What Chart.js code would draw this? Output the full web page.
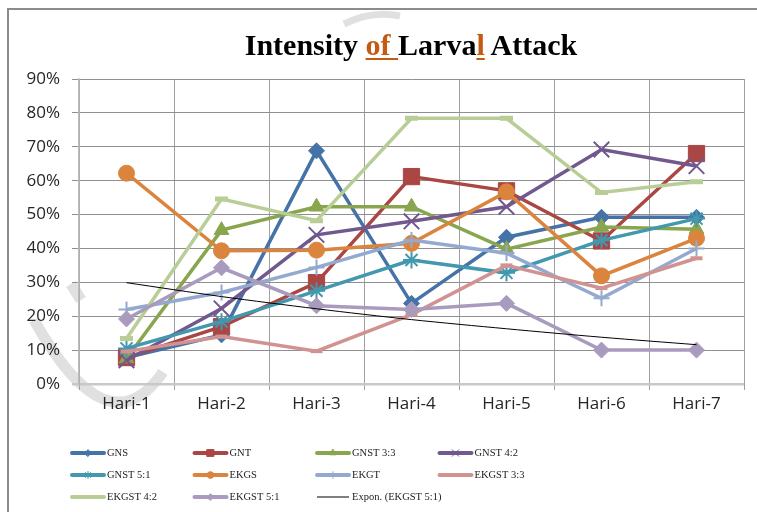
<!DOCTYPE html>
<html>
<head>
<meta charset="utf-8">
<script src="https://cdn.jsdelivr.net/npm/chart.js@4.4.0/dist/chart.umd.min.js"></script>
<style>
  html, body { margin: 0; padding: 0; background: #fff; overflow: hidden; }
  #wrap { position: relative; width: 757px; height: 512px; overflow: hidden; }
  #frame { position: absolute; left: 7px; top: 8px; width: 770px; height: 530px; border: 2px solid #8c8c8c; box-sizing: border-box; }
  #title { position: absolute; left: 65px; width: 692px; top: 28px; line-height: 34px; text-align: center;
           font: bold 30px "Liberation Serif", "Times New Roman", serif; color: #000; white-space: pre; }
  #title u { color: #c55a11; text-decoration: underline; text-decoration-thickness: 2px; text-underline-offset: 3px; }
  canvas { position: absolute; left: 0; top: 0; }
</style>
</head>
<body>
<div id="wrap">
  <div id="frame"></div>
  <canvas id="chart" width="757" height="512"></canvas>
  <div id="title">Intensity <u>of </u>Larva<u>l</u> Attack</div>
</div>
<script>
// data (percent)
const categories = ['Hari-1', 'Hari-2', 'Hari-3', 'Hari-4', 'Hari-5', 'Hari-6', 'Hari-7'];
const yTicks = [0, 10, 20, 30, 40, 50, 60, 70, 80, 90];

const gns     = [7.8, 14.5, 68.8, 23.8, 43.3, 49.2, 49.2];
const gnt     = [7.8, 16.9, 29.9, 61.2, 57.0, 42.2, 68.0];
const gnst33  = [7.5, 45.4, 52.3, 52.3, 39.8, 46.3, 45.7];
const gnst42  = [7.0, 22.3, 44.0, 48.0, 52.3, 69.2, 64.3];
const gnst51  = [10.5, 18.4, 27.5, 36.6, 32.8, 42.4, 48.8];
const ekgs    = [62.2, 39.3, 39.5, 41.5, 56.7, 31.9, 43.0];
const ekgt    = [22.0, 27.0, 34.4, 42.5, 38.6, 25.3, 40.0];
const ekgst33 = [9.6, 14.0, 9.7, 20.5, 35.0, 28.3, 37.1];
const ekgst42 = [13.4, 54.6, 48.2, 78.4, 78.4, 56.5, 59.7];
const ekgst51 = [19.2, 34.3, 23.1, 22.0, 23.8, 10.0, 10.0];
const expon51 = [29.9, 25.8, 22.2, 19.0, 16.3, 13.8, 11.6];

function series(label, data, color, style, radius, bw) {
    return {
        label: label,
        data: data,
        borderColor: color,
        backgroundColor: color,
        borderWidth: 3.5,
        tension: 0,
        pointStyle: style,
        pointRadius: radius,
        pointHoverRadius: radius,
        pointBorderWidth: bw,
        pointBorderColor: color,
        pointBackgroundColor: color
    };
}

const datasets = [
    series('GNS', gns, '#4572a7', 'rectRot', 8, 1),
    series('GNT', gnt, '#aa4643', 'rect', 11.5, 1),
    series('GNST 3:3', gnst33, '#89a54e', 'triangle', 8.5, 1),
    series('GNST 4:2', gnst42, '#71588f', 'crossRot', 11, 2),
    series('GNST 5:1', gnst51, '#4198af', 'star', 8.5, 2),
    series('EKGS', ekgs, '#db843d', 'circle', 8, 1),
    series('EKGT', ekgt, '#93a9cf', 'cross', 8, 2),
    series('EKGST 3:3', ekgst33, '#d19392', 'line', 6, 4),
    series('EKGST 4:2', ekgst42, '#b9cd96', 'line', 6.5, 5),
    series('EKGST 5:1', ekgst51, '#a99bbd', 'rectRot', 8, 1),
    {
        label: 'Expon. (EKGST 5:1)',
        data: expon51,
        borderColor: '#000',
        borderWidth: 1,
        pointRadius: 0,
        pointHoverRadius: 0,
        tension: 0.3
    }
];
// later series sit on top, as in the original
datasets.forEach((d, i) => { d.order = datasets.length - i; });

// faint watermark strokes, under everything else
const watermark = {
    id: 'watermark',
    beforeDraw(chart) {
        const c = chart.ctx;
        c.save();
        c.strokeStyle = '#e0e0e0';
        c.lineWidth = 11;
        c.beginPath();
        c.moveTo(34, 320);
        c.quadraticCurveTo(108, 452, 163, 372);
        c.stroke();
        c.beginPath();
        c.moveTo(71, 284);
        c.lineTo(81, 300);
        c.stroke();
        c.lineWidth = 7;
        c.beginPath();
        c.moveTo(344, 24);
        c.quadraticCurveTo(372, 10, 400, 16);
        c.stroke();
        c.restore();
    }
};

// legend in a 4-column grid like the original
const gridLegend = {
    id: 'gridLegend',
    afterDraw(chart) {
        const c = chart.ctx;
        const sets = chart.data.datasets;
        c.save();
        c.font = '10.5px "Liberation Serif", "Times New Roman", serif';
        c.textBaseline = 'middle';
        sets.forEach((d, i) => {
            const col = i % 4, row = Math.floor(i / 4);
            const x0 = 72 + col * 122.5;
            const y = 453 + row * 22;
            const thin = d.borderWidth < 2;
            c.strokeStyle = d.borderColor;
            c.lineWidth = thin ? 1 : 4;
            c.lineCap = thin ? 'butt' : 'round';
            c.beginPath();
            c.moveTo(x0, y);
            c.lineTo(x0 + 32, y);
            c.stroke();
            if (d.pointRadius > 0 && d.pointStyle !== 'line' && Chart.helpers && Chart.helpers.drawPoint) {
                c.fillStyle = d.borderColor;
                c.lineWidth = 1;
                Chart.helpers.drawPoint(c, { pointStyle: d.pointStyle, radius: d.pointRadius * 0.42, rotation: 0, borderWidth: 1 }, x0 + 16, y);
            }
            c.fillStyle = '#222';
            c.fillText(d.label, x0 + 35, y + 0.5);
        });
        c.restore();
    }
};

new Chart(document.getElementById('chart'), {
    type: 'line',
    data: { labels: categories, datasets: datasets },
    plugins: [watermark, gridLegend],
    options: {
        responsive: false,
        animation: false,
        events: [],
        layout: { padding: { left: 0, top: 79, right: 9, bottom: 98 } },
        plugins: { legend: { display: false }, title: { display: false }, tooltip: { enabled: false } },
        scales: {
            x: {
                offset: true,
                afterFit(scale) { scale.height = 30; },
                grid: { offset: true, color: '#a0a0a0', lineWidth: 1, tickLength: 6, drawTicks: true },
                border: { display: false },
                ticks: { color: '#262626', font: { family: '"Open Sans", sans-serif', size: 17 }, padding: 4, maxRotation: 0 }
            },
            y: {
                min: 0,
                max: 90,
                afterFit(scale) { scale.width = 79; },
                afterBuildTicks(scale) { scale.ticks = yTicks.map(v => ({ value: v })); },
                grid: {
                    color: ctx => ctx.tick && ctx.tick.value === 0 ? '#c8c8c8' : '#8f8f8f',
                    lineWidth: ctx => ctx.tick && ctx.tick.value === 0 ? 2.5 : 1,
                    tickLength: 7
                },
                border: { color: '#bdbdbd', width: 1.5 },
                ticks: {
                    color: '#262626',
                    font: { family: '"Open Sans", sans-serif', size: 17 },
                    padding: 12,
                    callback: v => v + '%'
                }
            }
        }
    }
});
</script>
</body>
</html>
